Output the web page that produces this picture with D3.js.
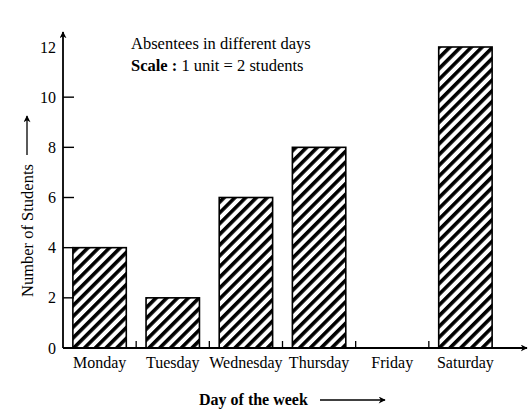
<!DOCTYPE html>
<html><head><meta charset="utf-8">
<script src="https://cdn.jsdelivr.net/npm/d3@7"></script>
<style>body{margin:0;background:#fff}svg{display:block;font-family:"Liberation Serif","Times New Roman",serif}</style>
</head><body>
<svg id="c" width="531" height="414"></svg>
<script>
const days = ["Monday","Tuesday","Wednesday","Thursday","Friday","Saturday"];
const students = [4, 2, 6, 8, 0, 12];
const yTicks = [0, 2, 4, 6, 8, 10, 12];
const titleLines = ["Absentees in different days"];
const scaleText = ["Scale :", " 1 unit = 2 students"];
const xTitle = "Day of the week";
const yTitle = "Number of Students";

const svg = d3.select("#c");
const x0 = 63, x1 = 502, y0 = 348, yTop = 47;
const x = d3.scaleBand().domain(days).range([x0, x1]).paddingInner(0.27).paddingOuter(0.135);
const y = d3.scaleLinear().domain([0, 12]).range([y0, yTop]);

const defs = svg.append("defs");
defs.append("marker").attr("id","arr").attr("viewBox","0 0 10 10").attr("refX",9).attr("refY",5)
  .attr("markerWidth",7).attr("markerHeight",7).attr("markerUnits","userSpaceOnUse").attr("orient","auto")
  .append("path").attr("d","M0,0 L10,5 L0,10 L3,5 Z").attr("fill","#000");
defs.append("marker").attr("id","arrBig").attr("viewBox","0 0 10 10").attr("refX",9).attr("refY",5)
  .attr("markerWidth",9).attr("markerHeight",7).attr("markerUnits","userSpaceOnUse").attr("orient","auto")
  .append("path").attr("d","M0,0 L10,5 L0,10 L3,5 Z").attr("fill","#000");
const pat = defs.append("pattern").attr("id","hatch").attr("patternUnits","userSpaceOnUse")
  .attr("width",7.6).attr("height",7.6).attr("patternTransform","rotate(45)");
pat.append("rect").attr("width",7.6).attr("height",7.6).attr("fill","#fff");
pat.append("rect").attr("x",0).attr("y",0).attr("width",3.6).attr("height",7.6).attr("fill","#000");

// bars
svg.append("g").selectAll("rect").data(days.map((d,i)=>({d, v:students[i]})).filter(o=>o.v>0))
  .join("rect")
  .attr("x", o => x(o.d)).attr("width", x.bandwidth())
  .attr("y", o => y(o.v)).attr("height", o => y(0) - y(o.v))
  .attr("fill","url(#hatch)").attr("stroke","#000").attr("stroke-width",1.6);

// x axis line
svg.append("line").attr("x1", x0).attr("x2", 527).attr("y1", y0).attr("y2", y0)
  .attr("stroke","#000").attr("stroke-width",1.8).attr("marker-end","url(#arr)");
// x ticks at band boundaries
const step = x.step();
svg.append("g").selectAll("line").data(days.slice(0, -1)).join("line")
  .attr("x1", d => x(d) + x.bandwidth() + step * x.paddingInner() / 2)
  .attr("x2", d => x(d) + x.bandwidth() + step * x.paddingInner() / 2)
  .attr("y1", y0).attr("y2", y0 - 7).attr("stroke","#000").attr("stroke-width",1.3);
// x labels
svg.append("g").selectAll("text").data(days).join("text")
  .attr("x", d => x(d) + x.bandwidth()/2).attr("y", 368)
  .attr("text-anchor","middle").attr("font-size",16).text(d => d);

// y axis
svg.append("line").attr("x1", x0).attr("x2", x0).attr("y1", y0).attr("y2", 32)
  .attr("stroke","#000").attr("stroke-width",1.8).attr("marker-end","url(#arr)");
svg.append("g").selectAll("line").data(yTicks.filter(t => t > 0 && t < 12)).join("line")
  .attr("x1", x0).attr("x2", x0 + 11).attr("y1", d => y(d)).attr("y2", d => y(d))
  .attr("stroke","#000").attr("stroke-width",1.4);
svg.append("g").selectAll("text").data(yTicks).join("text")
  .attr("x", 56).attr("y", d => y(d) + 5.5).attr("text-anchor","end").attr("font-size",16).text(d => d);

// y title
const yt = svg.append("g").attr("transform","translate(33,297) rotate(-90)");
yt.append("text").attr("x",0).attr("y",0).attr("font-size",16.5).text(yTitle);
yt.append("line").attr("x1",142).attr("x2",181).attr("y1",-6).attr("y2",-6)
  .attr("stroke","#000").attr("stroke-width",1.3).attr("marker-end","url(#arrBig)");

// x title
svg.append("text").attr("x",199).attr("y",405).attr("font-size",16).attr("font-weight","bold").text(xTitle);
svg.append("line").attr("x1",320).attr("x2",385).attr("y1",400).attr("y2",400)
  .attr("stroke","#000").attr("stroke-width",1.3).attr("marker-end","url(#arrBig)");

// title
svg.append("text").attr("x",131).attr("y",49).attr("font-size",16.5).text(titleLines[0]);
const st = svg.append("text").attr("x",131).attr("y",71).attr("font-size",16.5);
st.append("tspan").attr("font-weight","bold").text(scaleText[0]);
st.append("tspan").text(scaleText[1]);
</script>
</body></html>
